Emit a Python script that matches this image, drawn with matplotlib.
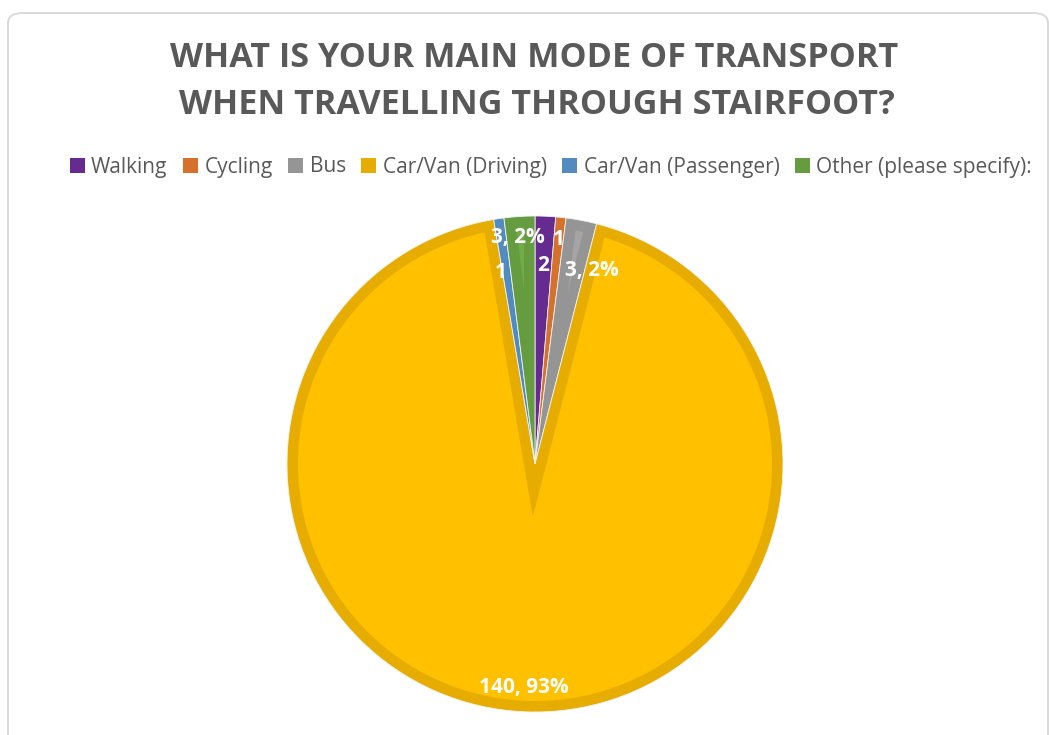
import numpy as np
import matplotlib
matplotlib.use("Agg")
import matplotlib.pyplot as plt
from matplotlib.patches import FancyBboxPatch, Polygon, Patch
import matplotlib.colors as mcolors

# Survey results
categories = ["Walking", "Cycling", "Bus", "Car/Van (Driving)",
              "Car/Van (Passenger)", "Other (please specify):"]
counts = [2, 1, 3, 140, 1, 3]
show_percent = [False, False, True, True, False, True]

colors = ["#7030A0", "#ED7D31", "#A5A5A5", "#FFC000", "#5B9BD5", "#70AD47"]
# label placement: radius fraction, horizontal alignment, nudge in points
label_radius = [0.80, 0.91, 0.80, 0.90, 0.79, 0.92]
label_ha = ["center", "center", "left", "center", "center", "center"]
label_nudge = [(0, 0), (0, 0), (-5, -1), (-1, 0), (-4, -2), (-2, -1)]

W, H = 1049, 735
fig = plt.figure(figsize=(W / 100, H / 100), dpi=100)
fig.patch.set_facecolor("white")

# rounded chart-area frame
frame = FancyBboxPatch((8 / W, -20 / H), (1040) / W, (H - 13 + 20) / H,
                       boxstyle="round,pad=0,rounding_size=0.014",
                       transform=fig.transFigure, facecolor="none",
                       edgecolor="#D9D9D9", linewidth=1.4, zorder=-1)
fig.patches.append(frame)

TITLE_COLOR = "#595959"
fig.text(534 / W, 1 - 58 / H, "WHAT IS YOUR MAIN MODE OF TRANSPORT",
         ha="center", va="center", fontsize=24.6, fontweight="bold",
         color=TITLE_COLOR, family="Open Sans")
fig.text(537 / W, 1 - 105 / H, "WHEN TRAVELLING THROUGH STAIRFOOT?",
         ha="center", va="center", fontsize=24.6, fontweight="bold",
         color=TITLE_COLOR, family="Open Sans")


def darker(c, f=0.9):
    r, g, b = mcolors.to_rgb(c)
    return (r * f, g * f, b * f)


dark_colors = [darker(c) for c in colors]

cx, cy, R = 535, 464, 248
ax = fig.add_axes([(cx - R) / W, (H - cy - R) / H, 2 * R / W, 2 * R / H])
wedges, _ = ax.pie(counts, colors=dark_colors, startangle=90, counterclock=False,
                   radius=1.0, wedgeprops=dict(edgecolor="#F2F2F2", linewidth=0.6))
ax.set_xlim(-1, 1)
ax.set_ylim(-1, 1)
ax.set_aspect("equal")
ax.axis("off")

# inner lighter face of each slice (bevelled look)
d = 11 / R
for w, c in zip(wedges, colors):
    a1, a2 = np.radians(w.theta1), np.radians(w.theta2)
    span = a2 - a1
    rin = 1.0 - d
    apex = d / np.sin(span / 2)
    delta = np.arcsin(d / rin)
    if apex >= rin or a1 + delta >= a2 - delta:
        continue
    mid = (a1 + a2) / 2
    ax_pt = (apex * np.cos(mid), apex * np.sin(mid))
    ts = np.linspace(a1 + delta, a2 - delta, 300)
    pts = [ax_pt] + [(rin * np.cos(t), rin * np.sin(t)) for t in ts]
    ax.add_patch(Polygon(pts, closed=True, facecolor=c, edgecolor="none", zorder=3))

# data labels
total = sum(counts)
for w, v, sp, rf, ha, nd in zip(wedges, counts, show_percent, label_radius,
                                label_ha, label_nudge):
    mid = np.radians((w.theta1 + w.theta2) / 2)
    txt = f"{v}, {round(v / total * 100)}%" if sp else f"{v}"
    ax.annotate(txt, (rf * np.cos(mid), rf * np.sin(mid)), xytext=nd,
                textcoords="offset points", ha=ha, va="center",
                fontsize=15, fontweight="bold", color="white", family="Open Sans",
                zorder=5)

# legend
handles = [Patch(facecolor=dc, edgecolor="none") for dc in dark_colors]
fig.legend(handles, categories, loc="center", bbox_to_anchor=(551 / W, 1 - 167 / H),
           ncol=6, frameon=False, handlelength=0.72, handleheight=0.72,
           handletextpad=0.3, columnspacing=0.75, borderaxespad=0,
           labelcolor=TITLE_COLOR, prop=dict(family="Open Sans", size=15))

fig.savefig("out.png", dpi=100)
